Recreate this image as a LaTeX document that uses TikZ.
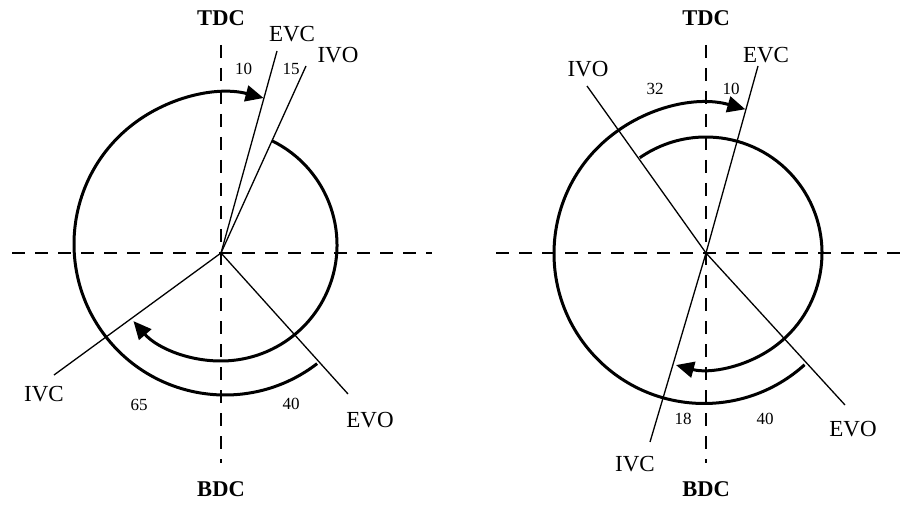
\documentclass[tikz,border=0pt]{standalone}
\usepackage{fontspec}
\setmainfont{Liberation Serif}
\usetikzlibrary{arrows.meta,calc}
\begin{document}
\begin{tikzpicture}[x=1pt,y=1pt,
  axis/.style={line width=1.5pt, dash pattern=on 13pt off 10pt},
  thinline/.style={line width=1.3pt},
  cyc/.style={line width=3pt},
  cycarrow/.style={cyc, -{Triangle[length=18pt,width=16pt]}},
  lbl/.style={font=\fontsize{23}{27}\selectfont, inner sep=0pt},
  num/.style={font=\fontsize{17}{20}\selectfont, inner sep=0pt},
  dc/.style={font=\fontsize{22.5}{27}\selectfont\bfseries, inner sep=0pt}]
\useasboundingbox (0,0) rectangle (910,504);

% ---------------- left diagram ----------------
\coordinate (C1) at (221,251);
\coordinate (h1a) at (12,251);  \coordinate (h1b) at (432,251);
\coordinate (v1a) at (221,459); \coordinate (v1b) at (221,41);
\draw[axis] (h1a) -- (h1b);
\draw[axis] (v1a) -- (v1b);

\coordinate (evc1) at (277,453);
\coordinate (ivo1) at (306,438);
\coordinate (ivc1) at (54,129);
\coordinate (evo1) at (348,110);
\draw[thinline] (C1) -- (evc1);
\draw[thinline] (C1) -- (ivo1);
\draw[thinline] (C1) -- (ivc1);
\draw[thinline] (C1) -- (evo1);

\coordinate (O1) at (225,260);
\coordinate (I1) at (221,259);
\draw[cycarrow] ($(O1)+(-52.4:151)$) arc[start angle=-52.4, end angle=-284.8, radius=151];
\draw[cycarrow] ($(I1)+(64:116)$) arc[start angle=64, end angle=-139, radius=116];

\node[dc]  (tdc1) at (221,486) {TDC};
\node[dc]  (bdc1) at (221,15)  {BDC};
\node[lbl] (tevc1) at (292,470) {EVC};
\node[lbl] (tivo1) at (338,449) {IVO};
\node[lbl] (tivc1) at (44,110)  {IVC};
\node[lbl] (tevo1) at (370,84)  {EVO};
\node[num] (n10a) at (243.5,435) {10};
\node[num] (n15)  at (291,435) {15};
\node[num] (n65)  at (139,99)  {65};
\node[num] (n40a) at (291,100) {40};

% ---------------- right diagram ----------------
\coordinate (C2) at (706,251);
\coordinate (h2a) at (496,251); \coordinate (h2b) at (903,251);
\coordinate (v2a) at (706,459); \coordinate (v2b) at (706,41);
\draw[axis] (h2a) -- (h2b);
\draw[axis] (v2a) -- (v2b);

\coordinate (ivo2) at (587,418);
\coordinate (evc2) at (758,438);
\coordinate (ivc2) at (650,62);
\coordinate (evo2) at (845,99);
\draw[thinline] (C2) -- (ivo2);
\draw[thinline] (C2) -- (evc2);
\draw[thinline] (C2) -- (ivc2);
\draw[thinline] (C2) -- (evo2);

\coordinate (O2) at (704,250.5);
\coordinate (I2) at (706,251);
\draw[cycarrow] ($(O2)+(-47.9:150)$) arc[start angle=-47.9, end angle=-286, radius=150];
\draw[cycarrow] ($(I2)+(124.8:116)$) arc[start angle=124.8, end angle=-105, radius=116];

\node[dc]  (tdc2) at (706,486) {TDC};
\node[dc]  (bdc2) at (706,15)  {BDC};
\node[lbl] (tevc2) at (766,449) {EVC};
\node[lbl] (tivo2) at (588,435) {IVO};
\node[lbl] (tivc2) at (635,40)  {IVC};
\node[lbl] (tevo2) at (853,75)  {EVO};
\node[num] (n32)  at (655,415) {32};
\node[num] (n10b) at (731,415) {10};
\node[num] (n18)  at (683,85)  {18};
\node[num] (n40b) at (765,85)  {40};
\end{tikzpicture}
\end{document}
